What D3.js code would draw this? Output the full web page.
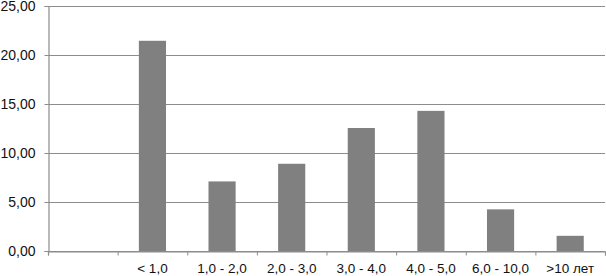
<!DOCTYPE html>
<html>
<head>
<meta charset="utf-8">
<script src="https://cdn.jsdelivr.net/npm/d3@7"></script>
<style>
  body { margin: 0; background: #fff; }
  svg text { font-family: "Liberation Sans", Arial, sans-serif; }
</style>
</head>
<body>
<script>
let categories = ['', '< 1,0', '1,0 - 2,0', '2,0 - 3,0', '3,0 - 4,0', '4,0 - 5,0', '6,0 - 10,0', '>10 лет'];
let values = [null, 21.45, 7.1, 8.9, 12.55, 14.3, 4.25, 1.55];
let yTicks = [0, 5, 10, 15, 20, 25];

let w = 606, h = 276;
let padL = 48, padR = 605, padT = 6, padB = 251;

let svg = d3.select('body').append('svg')
    .attr('width', w)
    .attr('height', h);

let x = d3.scaleBand()
    .domain(categories.map((d, i) => i))
    .range([padL, padR])
    .paddingInner(0.61)
    .paddingOuter(0.305);

let xLine = d3.scaleLinear()
    .domain([0, categories.length])
    .range([padL, padR]);

let y = d3.scaleLinear()
    .domain([0, 25])
    .range([padB, padT]);

// gridlines
svg.append('g')
    .selectAll('line')
    .data(yTicks)
    .enter()
    .append('line')
    .attr('x1', padL)
    .attr('x2', padR)
    .attr('y1', d => Math.round(y(d)) + 0.5)
    .attr('y2', d => Math.round(y(d)) + 0.5)
    .attr('stroke', '#8c8c8c')
    .attr('stroke-width', 1.2);

// bars
svg.append('g')
    .selectAll('rect')
    .data(values.map((v, i) => ({ v, i })).filter(d => d.v != null))
    .enter()
    .append('rect')
    .attr('x', d => x(d.i))
    .attr('width', x.bandwidth())
    .attr('y', d => y(d.v))
    .attr('height', d => y(0) - y(d.v))
    .attr('fill', '#808080');

// y axis
let yAxis = svg.append('g')
    .attr('transform', `translate(${padL + 0.5},0)`)
    .call(d3.axisLeft(y).tickValues(yTicks).tickSize(4).tickPadding(9)
        .tickFormat(d => d3.format('.2f')(d).replace('.', ',')));
yAxis.select('.domain').attr('stroke', '#8c8c8c').attr('stroke-width', 1.2);
yAxis.selectAll('.tick line').attr('stroke', '#8c8c8c');
yAxis.selectAll('.tick text').attr('font-size', 14).attr('fill', '#111');

// x axis
let xAxis = svg.append('g')
    .attr('transform', `translate(0,${Math.round(padB) + 0.5})`)
    .call(d3.axisBottom(xLine).tickValues(d3.range(categories.length + 1)).tickSize(4).tickFormat(''));
xAxis.select('.domain').attr('stroke', '#8c8c8c').attr('stroke-width', 1.2);
xAxis.selectAll('.tick line').attr('stroke', '#8c8c8c');

svg.append('g')
    .selectAll('text')
    .data(categories)
    .enter()
    .append('text')
    .attr('x', (d, i) => x(i) + x.bandwidth() / 2)
    .attr('y', 273)
    .attr('text-anchor', 'middle')
    .attr('font-size', 13.5)
    .attr('fill', '#111')
    .text(d => d);
</script>
</body>
</html>
